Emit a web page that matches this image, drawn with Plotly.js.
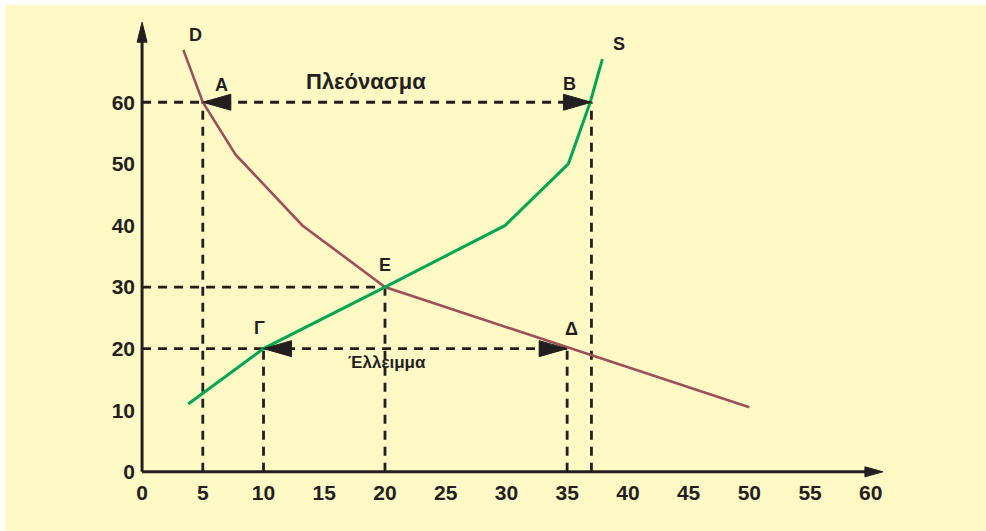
<!DOCTYPE html>
<html><head><meta charset="utf-8">
<script src="https://cdn.plot.ly/plotly-3.0.1.min.js"></script>
<style>html,body{margin:0;padding:0;background:#ffffff;}#chart{position:absolute;left:5px;top:5px;width:981px;height:526px;}</style>
</head><body><div id="chart"></div>
<script>
// Demand curve D
var demandQ = [3.4, 5, 7.7, 13.2, 20, 50];
var demandP = [68.5, 60, 51.5, 40, 30, 10.5];
// Supply curve S
var supplyQ = [3.8, 10, 20, 29.9, 35.1, 36.9, 37.9];
var supplyP = [11, 20, 30, 40, 50, 60, 67];
// Key points
var pointA = [5, 60], pointB = [37, 60];
var pointE = [20, 30];
var pointG = [10, 20], pointDelta = [35, 20];
// Axis ticks
var xTicks = [0, 5, 10, 15, 20, 25, 30, 35, 40, 45, 50, 55, 60];
var yTicks = [0, 10, 20, 30, 40, 50, 60];

var ink = '#231f20';
var FONT = 'Liberation Sans, Arial, sans-serif';
var dashStyle = '9px,7px';

function dashTrace(xs, ys) {
  return {x: xs, y: ys, mode: 'lines', type: 'scatter', hoverinfo: 'skip', showlegend: false,
    line: {color: ink, width: 2.8, dash: dashStyle}};
}

var traces = [
  dashTrace([0, pointB[0]], [pointA[1], pointB[1]]),
  dashTrace([pointA[0], pointA[0]], [0, pointA[1]]),
  dashTrace([pointB[0], pointB[0]], [0, pointB[1]]),
  dashTrace([0, pointE[0]], [pointE[1], pointE[1]]),
  dashTrace([pointE[0], pointE[0]], [0, pointE[1]]),
  dashTrace([0, pointDelta[0]], [pointG[1], pointDelta[1]]),
  dashTrace([pointG[0], pointG[0]], [0, pointG[1]]),
  dashTrace([pointDelta[0], pointDelta[0]], [0, pointDelta[1]]),
  {x: demandQ, y: demandP, mode: 'lines', type: 'scatter', hoverinfo: 'skip', showlegend: false,
    line: {color: '#9d4f5b', width: 2.6}},
  {x: supplyQ, y: supplyP, mode: 'lines', type: 'scatter', hoverinfo: 'skip', showlegend: false,
    line: {color: '#00a651', width: 3}}
];

function arrowHead(pt, dir) { // dir -1: tip points left, +1: tip points right
  var L = 28 * -dir, H = 8;
  return {type: 'path', xref: 'x', yref: 'y', xsizemode: 'pixel', ysizemode: 'pixel',
    xanchor: pt[0], yanchor: pt[1],
    path: 'M0,0 L' + L + ',' + H + ' L' + L + ',' + (-H) + ' Z',
    fillcolor: ink, line: {color: ink, width: 1}, layer: 'above'};
}

var yTop = 73, xEnd = 61;
var shapes = [
  {type: 'line', xref: 'x', yref: 'y', x0: 0, x1: 0, y0: 0, y1: yTop - 2, line: {color: ink, width: 3}, layer: 'above'},
  {type: 'line', xref: 'x', yref: 'y', x0: 0, x1: xEnd - 1, y0: 0, y1: 0, line: {color: ink, width: 3}, layer: 'above'},
  {type: 'path', xref: 'x', yref: 'y', xsizemode: 'pixel', ysizemode: 'pixel', xanchor: 0, yanchor: yTop,
    path: 'M0,0 L5,-20 L-5,-20 Z', fillcolor: ink, line: {color: ink, width: 1}, layer: 'above'},
  {type: 'path', xref: 'x', yref: 'y', xsizemode: 'pixel', ysizemode: 'pixel', xanchor: xEnd, yanchor: 0,
    path: 'M0,0 L-18,5 L-18,-5 Z', fillcolor: ink, line: {color: ink, width: 1}, layer: 'above'},
  arrowHead(pointA, -1),
  arrowHead(pointB, 1),
  arrowHead(pointG, -1),
  arrowHead(pointDelta, 1)
];

function lab(x, y, t, size) {
  return {x: x, y: y, xref: 'x', yref: 'y', text: t, showarrow: false,
    font: {family: FONT, size: size || 18, color: ink, weight: 'bold'}};
}
var annotations = [
  lab(-2.1, 70.8, 'P', 20),
  lab(4.4, 70.9, 'D', 18),
  lab(39.3, 69.5, 'S', 18),
  lab(6.5, 62.8, 'A', 18),
  lab(35.2, 63.0, 'B', 18),
  lab(18.4, 63.4, 'Πλεόνασμα', 22),
  lab(20.0, 33.6, 'E', 18),
  lab(9.7, 23.4, 'Γ', 18),
  lab(35.35, 23.2, 'Δ', 18),
  lab(20.2, 17.8, 'Έλλειμμα', 17),
  lab(60.2, -7.1, 'Q', 20)
];

var layout = {
  width: 981, height: 526,
  paper_bgcolor: '#fff9c5', plot_bgcolor: 'rgba(0,0,0,0)',
  margin: {l: 130.9, r: 96.8, t: 10.6, b: 52.8},
  showlegend: false,
  xaxis: {range: [-0.5, 61.5], tickvals: xTicks, ticktext: xTicks.map(String), showgrid: false, zeroline: false,
    showline: false, ticks: '', fixedrange: true,
    tickfont: {family: FONT, size: 21, color: ink, weight: 'bold'}},
  yaxis: {range: [-1, 74], tickvals: yTicks, ticktext: yTicks.map(String), showgrid: false, zeroline: false,
    showline: false, ticks: '', fixedrange: true,
    tickfont: {family: FONT, size: 21, color: ink, weight: 'bold'}},
  shapes: shapes,
  annotations: annotations
};

Plotly.newPlot('chart', traces, layout, {displayModeBar: false, staticPlot: true});
</script></body></html>
